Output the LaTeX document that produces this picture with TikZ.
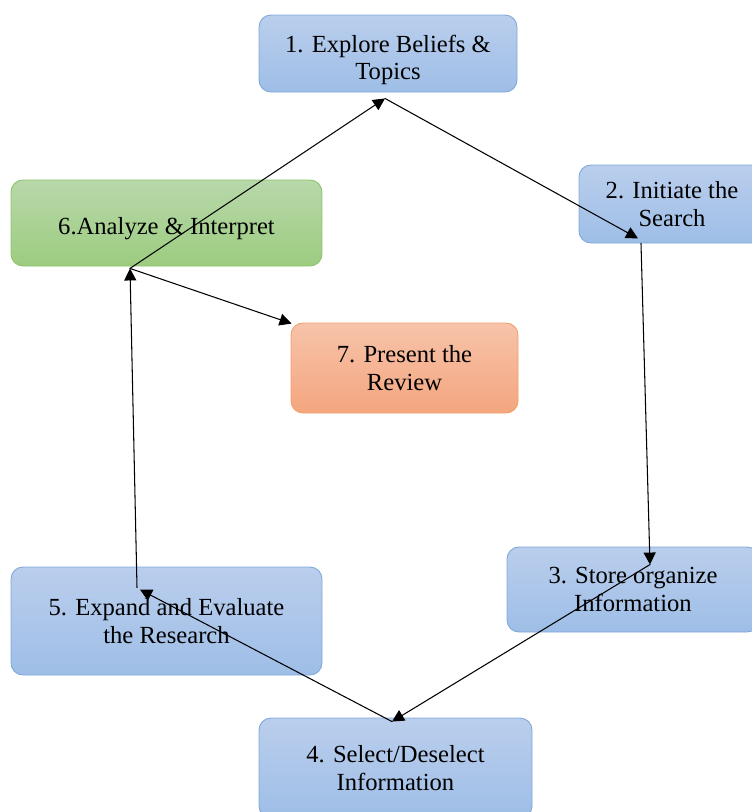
\documentclass[tikz,border=0pt]{standalone}
\usepackage{fontspec}
\setmainfont{Liberation Serif}
\usepackage{tikz}
\usetikzlibrary{arrows.meta}
\usetikzlibrary{calc}
\definecolor{bluetop}{RGB}{186,206,236}
\definecolor{bluebot}{RGB}{158,190,231}
\definecolor{blueline}{RGB}{126,167,218}
\definecolor{greentop}{RGB}{184,216,170}
\definecolor{greenbot}{RGB}{156,204,128}
\definecolor{greenline}{RGB}{140,195,106}
\definecolor{orangetop}{RGB}{247,195,170}
\definecolor{orangebot}{RGB}{244,166,126}
\definecolor{orangeline}{RGB}{240,160,110}

\tikzset{
  stagebox/.style={draw=blueline,line width=0.5pt,rounded corners=0.24cm,top color=bluetop,bottom color=bluebot,align=center,inner sep=2pt,font=\fontsize{14}{15.5}\selectfont},
  analysebox/.style={stagebox,draw=greenline,top color=greentop,bottom color=greenbot},
  reviewbox/.style={stagebox,draw=orangeline,top color=orangetop,bottom color=orangebot},
  flow/.style={line width=0.6pt,-{Triangle[length=2.4mm,width=2.4mm]}}
}

\begin{document}
\begin{tikzpicture}[line cap=round,line join=round]
\useasboundingbox (0,0) rectangle (15.04,-16.24);
\node[stagebox,minimum width=5.16cm,minimum height=1.54cm] (explore) at (7.76,-1.07) {\rule{0pt}{0.6cm}1. Explore Beliefs \&\\Topics};
\node[stagebox,minimum width=3.72cm,minimum height=1.56cm] (initiate) at (13.44,-4.08) {2. Initiate the\\Search};
\node[stagebox,minimum width=5.04cm,minimum height=1.70cm] (store) at (12.66,-11.79) {3. Store organize\\Information};
\node[stagebox,minimum width=5.46cm,minimum height=2.00cm] (select) at (7.91,-15.36) {4. Select/Deselect\\Information};
\node[stagebox,minimum width=6.22cm,minimum height=2.16cm] (expand) at (3.33,-12.42) {5. Expand and Evaluate\\the Research};
\node[analysebox,minimum width=6.22cm,minimum height=1.72cm] (analyse) at (3.33,-4.46) {\rule{0pt}{0.58cm}6.Analyze \& Interpret};
\node[reviewbox,minimum width=4.54cm,minimum height=1.80cm] (present) at (8.09,-7.36) {7. Present the\\Review};

\coordinate (explorein) at ($(explore.south)+(-0.06,-0.12)$);
\coordinate (initiatein) at ($(initiate.south)+(-0.68,0.10)$);
\coordinate (initiateout) at ($(initiate.south)+(-0.62,0)$);
\coordinate (storein) at ($(store.north)+(0.34,-0.36)$);
\coordinate (selectin) at ($(select.north)+(-0.07,-0.08)$);
\coordinate (expandin) at ($(expand.north)+(-0.53,-0.46)$);
\coordinate (expandout) at ($(expand.north)+(-0.59,-0.42)$);
\coordinate (analysein) at ($(analyse.south)+(-0.73,-0.04)$);
\coordinate (presentin) at ($(present.north west)+(0.02,-0.02)$);

\draw[flow] (analysein) -- (explorein);
\draw[flow] (explorein) -- (initiatein);
\draw[flow] (initiateout) -- (storein);
\draw[flow] (storein) -- (selectin);
\draw[flow] (selectin) -- (expandin);
\draw[flow] (expandout) -- (analysein);
\draw[flow] (analysein) -- (presentin);
\end{tikzpicture}
\end{document}
